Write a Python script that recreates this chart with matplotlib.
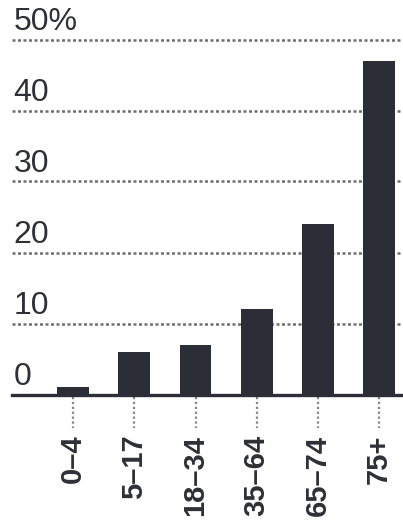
import numpy as np
import matplotlib
matplotlib.use("Agg")
import matplotlib.pyplot as plt

# share by age group, in percent
age_groups = ["0–4", "5–17", "18–34", "35–64", "65–74", "75+"]
shares = [1.0, 6.0, 7.0, 12.0, 24.0, 47.0]
y_ticks = [0, 10, 20, 30, 40, 50]
y_tick_labels = ["0", "10", "20", "30", "40", "50%"]

bar_color = "#2b2e36"
text_color = "#2f3035"

fig = plt.figure(figsize=(4.03, 5.29), dpi=100)
ax = fig.add_axes([12 / 403, 134.5 / 529, 391 / 403, 369.2 / 529])

x = np.arange(len(age_groups))
ax.bar(x, shares, width=0.52, color=bar_color, zorder=3)

ax.set_xlim(-1.0, len(age_groups) - 1 + 0.39)
ax.set_ylim(0, 52)

# dotted gridlines, label sitting just above each line
for v, lab in zip(y_ticks, y_tick_labels):
    if v > 0:
        ax.axhline(v, color="#6f6f6f", linewidth=1.8, linestyle=(0, (1.2, 1.0)), zorder=1)
    ax.text(0.004, v + 1.4, lab, transform=ax.get_yaxis_transform(),
            ha="left", va="baseline", fontsize=23, color=text_color,
            family=["Liberation Sans", "DejaVu Sans"])

# dotted tick marks under the baseline
ax.vlines(x, -0.35, -4.7, colors="#858585", linewidth=1.6,
          linestyles=(0, (1.0, 1.2)), clip_on=False)

for s in ["top", "right", "left"]:
    ax.spines[s].set_visible(False)
ax.spines["bottom"].set_color(bar_color)
ax.spines["bottom"].set_linewidth(2.4)
ax.spines["bottom"].set_zorder(4)

ax.set_yticks([])
ax.set_xticks(x)
ax.set_xticklabels(age_groups, rotation=90, fontsize=21, fontweight="bold",
                   color=text_color, family=["Liberation Sans", "DejaVu Sans"])
ax.tick_params(axis="x", length=0, pad=29)

fig.savefig("out.png", dpi=100)
